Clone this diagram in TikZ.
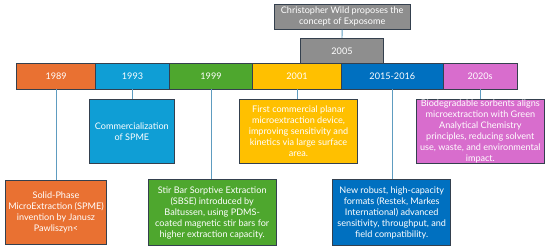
\documentclass[tikz,border=0pt]{standalone}
\usepackage{fontspec}
\setmainfont{Lato}
\definecolor{cOrange}{HTML}{E97132}
\definecolor{cBlue}{HTML}{0F9ED5}
\definecolor{cGreen}{HTML}{4EA72E}
\definecolor{cYellow}{HTML}{FFC000}
\definecolor{cDark}{HTML}{0070C0}
\definecolor{cPink}{HTML}{D86DCD}
\definecolor{cGray}{HTML}{8E8E8E}
\definecolor{cBorder}{HTML}{34404E}
\definecolor{cLink}{HTML}{5E9CC0}
\begin{document}
\begin{tikzpicture}[x=1pt,y=-1pt,
  box/.style={draw=cBorder,line width=0.9pt,rectangle,inner sep=0pt,
    text=white,align=center,font=\fontsize{9.1}{11}\selectfont},
  seg/.style={box,minimum height=25.3pt},
  link/.style={draw=cLink,line width=0.9pt}]
\useasboundingbox (0,0) rectangle (550,251);
% top
\node[box,fill=cGray,minimum width=135.7pt,minimum height=25.3pt] (wild) at (342.2,16.65) {Christopher Wild proposes the\\concept of Exposome};
\node[box,fill=cGray,minimum width=82.6pt,minimum height=25.4pt] (y2005) at (342,51) {2005};
% timeline
\node[seg,fill=cOrange,minimum width=79pt] (y1989) at (56.2,76.35) {1989};
\node[seg,fill=cBlue,minimum width=73.6pt] (y1993) at (132.5,76.35) {1993};
\node[seg,fill=cGreen,minimum width=83.4pt] (y1999) at (211,76.35) {1999};
\node[seg,fill=cYellow,minimum width=88.6pt] (y2001) at (297,76.35) {2001};
\node[seg,fill=cDark,minimum width=102pt] (y2015) at (392.3,76.35) {2015-2016};
\node[seg,fill=cPink,minimum width=73.7pt] (y2020) at (480.15,76.35) {2020s};
% descriptions
\node[box,fill=cOrange,minimum width=101.4pt,minimum height=64.3pt] (d1989) at (56,212.2) {Solid-Phase\\MicroExtraction (SPME)\\invention by Janusz\\Pawliszyn<};
\node[box,fill=cBlue,minimum width=85.7pt,minimum height=64.3pt] (d1993) at (131.85,131.2) {Commercialization\\of SPME};
\node[box,fill=cGreen,minimum width=127.7pt,minimum height=66.4pt] (d1999) at (212.2,212.5) {Stir Bar Sorptive Extraction\\(SBSE) introduced by\\Baltussen, using PDMS-\\coated magnetic stir bars for\\higher extraction capacity.};
\node[box,fill=cYellow,minimum width=118.4pt,minimum height=64.3pt] (d2001) at (298.5,131.2) {First commercial planar\\microextraction device,\\improving sensitivity and\\kinetics via large surface\\area.};
\node[box,fill=cDark,minimum width=118pt,minimum height=66.4pt] (d2015) at (391.7,212.5) {New robust, high-capacity\\formats (Restek, Markes\\International) advanced\\sensitivity, throughput, and\\field compatibility.};
\node[box,fill=cPink,minimum width=128.7pt,minimum height=64.3pt] (d2020) at (480.35,131.2) {Biodegradable sorbents aligns\\microextraction with Green\\Analytical Chemistry\\principles, reducing solvent\\use, waste, and environmental\\impact.};
% connectors
\draw[link] (wild.south) -- (y2005.north);
\draw[link] (y1989.south) -- (d1989.north -| y1989.south);
\draw[link] (y1993.south) -- (y1993.south |- d1993.north);
\draw[link] (y1999.south) -- (y1999.south |- d1999.north);
\draw[link] (y2001.south) -- (y2001.south |- d2001.north);
\draw[link] (y2015.south) -- (y2015.south |- d2015.north);
\draw[link] (y2020.south) -- (y2020.south |- d2020.north);
\end{tikzpicture}
\end{document}
